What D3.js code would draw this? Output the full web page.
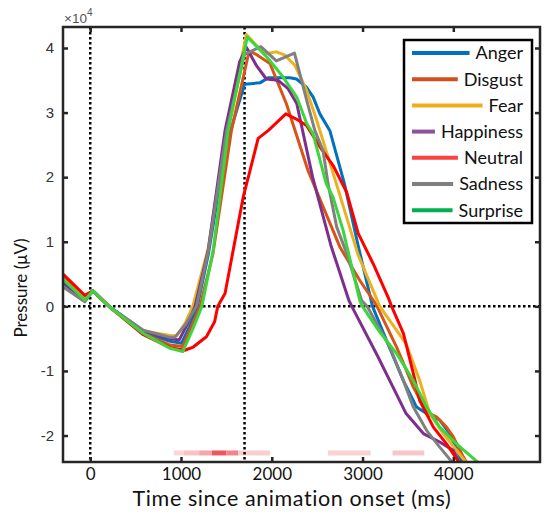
<!DOCTYPE html>
<html>
<head>
<meta charset="utf-8">
<script src="https://cdn.jsdelivr.net/npm/d3@7"></script>
<style>
  body { margin: 0; background: #fff; }
  svg { display: block; }
</style>
</head>
<body>
<div id="chart"></div>
<script>
// emotion categories, colours as drawn in the figure
var categories = ["Anger", "Disgust", "Fear", "Happiness", "Neutral", "Sadness", "Surprise"];
var lineColors = ["#0072BD", "#D95319", "#EDB120", "#7E2F8E", "#FF0000", "#808080", "#3CD63C"];
var legendColors = ["#0070C0", "#D24E1C", "#F0AC1C", "#8E50A0", "#FF4040", "#808080", "#00B050"];

// series values: [time (ms), pressure]
var anger = [[-300,3600],[-60,1000],[30,2400],[215,-100],[585,-4000],[880,-5400],[1005,-5700],[1100,-3000],[1180,0],[1300,8000],[1500,25000],[1700,34400],[1870,34600],[1960,35400],[2200,35400],[2273,35200],[2383,33900],[2456,32400],[2530,29800],[2640,27200],[2800,19000],[2950,9500],[3110,0],[3265,-5300],[3450,-11500],[3595,-15600],[3705,-16600],[3850,-17600],[3960,-19700],[4110,-24500]];
var disgust = [[-300,4500],[-60,1200],[30,2400],[215,-100],[585,-4200],[880,-6000],[1020,-6200],[1120,-3000],[1210,0],[1350,8000],[1555,27200],[1750,39500],[1830,39000],[1980,37600],[2160,31400],[2400,21000],[2750,9200],[2970,4000],[3120,900],[3160,0],[3375,-6300],[3560,-12500],[3705,-16400],[3815,-17100],[3925,-18700],[4000,-20200],[4110,-23300],[4160,-24500]];
var fear = [[-300,4200],[-60,1200],[30,2400],[215,-100],[585,-3800],[880,-4500],[950,-4600],[1050,-2500],[1130,0],[1300,9000],[1500,27000],[1720,42100],[1830,40400],[1925,39100],[2050,39400],[2145,38900],[2255,37300],[2385,33400],[2495,28800],[2700,19500],[2950,8000],[3190,0],[3480,-5800],[3630,-11500],[3740,-16600],[3890,-19700],[4160,-24500]];
var happiness = [[-300,3800],[-60,900],[30,2400],[215,-100],[585,-3800],[880,-5000],[980,-5200],[1080,-2500],[1155,0],[1300,8700],[1485,27200],[1645,37800],[1720,40100],[1830,37300],[1940,35200],[2070,35000],[2180,33700],[2275,31400],[2450,20000],[2650,9500],[2850,900],[2900,-500],[3170,-7800],[3300,-11500],[3480,-16600],[3670,-19700],[3850,-21000],[4000,-22300],[4080,-24500]];
var neutral = [[-300,5000],[-60,1700],[30,2400],[215,-100],[585,-4400],[880,-6400],[1040,-6800],[1135,-6300],[1280,-4700],[1370,-2400],[1405,0],[1485,2000],[1575,8700],[1685,16900],[1760,21000],[1850,26000],[1960,27200],[2155,29800],[2270,29000],[2383,28000],[2530,24700],[2676,21800],[2824,17700],[2952,11300],[3117,6600],[3282,1400],[3320,0],[3450,-4200],[3560,-10400],[3630,-14600],[3780,-18700],[3925,-21300],[4080,-24500]];
var sadness = [[-300,3000],[-60,700],[30,2400],[215,-100],[585,-3700],[880,-4800],[930,-4800],[1050,-2800],[1170,0],[1300,8500],[1500,27000],[1700,39000],[1880,40200],[2050,38000],[2250,39200],[2385,31900],[2475,27200],[2565,24100],[2620,19000],[2715,12300],[2825,8200],[2990,900],[3050,0],[3300,-6300],[3450,-11500],[3560,-15600],[3705,-19200],[3850,-21800],[4010,-24500]];
var surprise = [[-300,4200],[-60,1000],[30,2400],[215,-100],[585,-4200],[880,-6500],[1020,-7000],[1130,-3500],[1230,0],[1355,8700],[1520,27200],[1730,41700],[1945,38600],[2125,35500],[2275,32400],[2385,28300],[2455,26700],[2600,19000],[2675,16900],[2785,11800],[2970,900],[3000,0],[3080,-1700],[3190,-4000],[3375,-7300],[3560,-11500],[3705,-15600],[3850,-18700],[4035,-21300],[4300,-24500]];
var seriesValues = [anger, disgust, fear, happiness, neutral, sadness, surprise];

// significance strip along the bottom: [start, end, strength]
var sigStart = [920, 1030, 1200, 1340, 1500, 1630, 2620, 3330];
var sigEnd   = [1030, 1200, 1340, 1500, 1630, 1980, 3090, 3680];
var sigLevel = [0.18, 0.28, 0.4, 0.75, 0.55, 0.22, 0.2, 0.25];

var xTicks = [0, 1000, 2000, 3000, 4000];
var yTicks = [-20000, -10000, 0, 10000, 20000, 30000, 40000];
var markerTimes = [0, 1700];

var W = 544, H = 512;
var margin = {left: 63, right: 4, top: 27, bottom: 50};

var svg = d3.select("#chart").append("svg")
    .attr("width", W)
    .attr("height", H);

var x = d3.scaleLinear().domain([-300, 4955]).range([margin.left, W - margin.right]);
var y = d3.scaleLinear().domain([-24100, 43250]).range([H - margin.bottom, margin.top]);

var x0 = x.range()[0], x1 = x.range()[1], y0 = y.range()[0], y1 = y.range()[1];

svg.append("clipPath").attr("id", "plotclip")
  .append("rect")
    .attr("x", x0).attr("y", y1)
    .attr("width", x1 - x0).attr("height", y0 - y1);

var plot = svg.append("g").attr("clip-path", "url(#plotclip)");

// significance strip
var red = d3.interpolateRgb("#ffffff", "#e8202a");
plot.selectAll(".sig")
  .data(sigStart)
  .enter().append("rect")
    .attr("x", function(d) { return x(d); })
    .attr("width", function(d, i) { return x(sigEnd[i]) - x(d); })
    .attr("y", y(-22700) - 2.5)
    .attr("height", 5)
    .attr("fill", function(d, i) { return red(sigLevel[i]); });

// dotted reference lines
plot.selectAll(".vref")
  .data(markerTimes)
  .enter().append("line")
    .attr("x1", function(d) { return x(d); })
    .attr("x2", function(d) { return x(d); })
    .attr("y1", y1).attr("y2", y0)
    .attr("stroke", "#000")
    .attr("stroke-width", 2.5)
    .attr("stroke-dasharray", "2.5,2.5");

plot.append("line")
    .attr("x1", x0).attr("x2", x1)
    .attr("y1", y(0)).attr("y2", y(0))
    .attr("stroke", "#000")
    .attr("stroke-width", 2.5)
    .attr("stroke-dasharray", "2.5,2.5");

var line = d3.line()
    .x(function(d) { return x(d[0]); })
    .y(function(d) { return y(d[1]); });

plot.selectAll(".series")
  .data(seriesValues)
  .enter().append("path")
    .attr("d", line)
    .attr("fill", "none")
    .attr("stroke", function(d, i) { return lineColors[i]; })
    .attr("stroke-width", 3)
    .attr("stroke-linejoin", "round");

// axes (ticks inward, box like matlab)
var tickFont = "'Liberation Sans', Arial, sans-serif";
var labelFont = "Lato, 'Open Sans', sans-serif";
var axisColor = "#262626";

var xAxis = svg.append("g")
    .attr("transform", "translate(0," + y0 + ")")
    .call(d3.axisBottom(x).tickValues(xTicks).tickSize(-5).tickPadding(7).tickSizeOuter(0)
      .tickFormat(d3.format("d")));
var xTop = svg.append("g")
    .attr("transform", "translate(0," + y1 + ")")
    .call(d3.axisTop(x).tickValues(xTicks).tickSize(-5).tickFormat("").tickSizeOuter(0));
var yAxis = svg.append("g")
    .attr("transform", "translate(" + x0 + ",0)")
    .call(d3.axisLeft(y).tickValues(yTicks).tickSize(-5).tickPadding(9).tickSizeOuter(0)
      .tickFormat(function(d) { return d / 10000; }));
var yRight = svg.append("g")
    .attr("transform", "translate(" + x1 + ",0)")
    .call(d3.axisRight(y).tickValues(yTicks).tickSize(-5).tickFormat("").tickSizeOuter(0));

[xAxis, xTop, yAxis, yRight].forEach(function(g) {
  g.select(".domain").remove();
  g.selectAll(".tick line").attr("stroke", axisColor).attr("stroke-width", 2.5);
});

// bottom labels: fixed baseline so they sit just above the title
xAxis.selectAll(".tick text")
    .attr("y", 17.5)
    .attr("dy", null)
    .attr("font-family", labelFont)
    .attr("font-size", 17)
    .attr("fill", "#111");
yAxis.selectAll(".tick text")
    .attr("font-family", tickFont)
    .attr("font-size", 15)
    .attr("fill", "#333");

// frame
svg.append("rect")
    .attr("x", x0).attr("y", y1)
    .attr("width", x1 - x0).attr("height", y0 - y1)
    .attr("fill", "none")
    .attr("stroke", axisColor)
    .attr("stroke-width", 2.5);

// exponent label
var expo = svg.append("text")
    .attr("x", x0 + 1).attr("y", 22.5)
    .attr("font-family", tickFont)
    .attr("font-size", 13.5)
    .attr("fill", "#555");
expo.append("tspan").text("\u00d710");
expo.append("tspan").attr("dy", -7).attr("font-size", 10).text("4");

// axis titles
svg.append("text")
    .attr("x", 292).attr("y", 506)
    .attr("text-anchor", "middle")
    .attr("font-family", labelFont)
    .attr("font-size", 21.5)
    .attr("letter-spacing", 0.6)
    .attr("fill", "#111")
    .text("Time since animation onset (ms)");

svg.append("text")
    .attr("transform", "translate(27,288) rotate(-90)")
    .attr("text-anchor", "middle")
    .attr("font-family", labelFont)
    .attr("font-size", 17)
    .attr("fill", "#111")
    .text("Pressure (\u03bcV)");

// legend
var lg = svg.append("g");
lg.append("rect")
    .attr("x", 404).attr("y", 40)
    .attr("width", 128).attr("height", 183)
    .attr("fill", "#fff")
    .attr("stroke", "#000")
    .attr("stroke-width", 2.5);

var items = lg.selectAll(".item")
  .data(categories)
  .enter().append("g")
    .attr("transform", function(d, i) { return "translate(0," + (53 + i * 26.2) + ")"; });

items.append("text")
    .attr("x", 523)
    .attr("dy", "0.35em")
    .attr("text-anchor", "end")
    .attr("font-family", labelFont)
    .attr("font-size", 18)
    .attr("fill", "#111")
    .text(function(d) { return d; });

items.each(function(d, i) {
  var g = d3.select(this);
  var tx = g.select("text").node().getBBox().x;
  g.append("line")
      .attr("x1", 412).attr("x2", tx - 6)
      .attr("stroke", legendColors[i])
      .attr("stroke-width", 4);
});
</script>
</body>
</html>
